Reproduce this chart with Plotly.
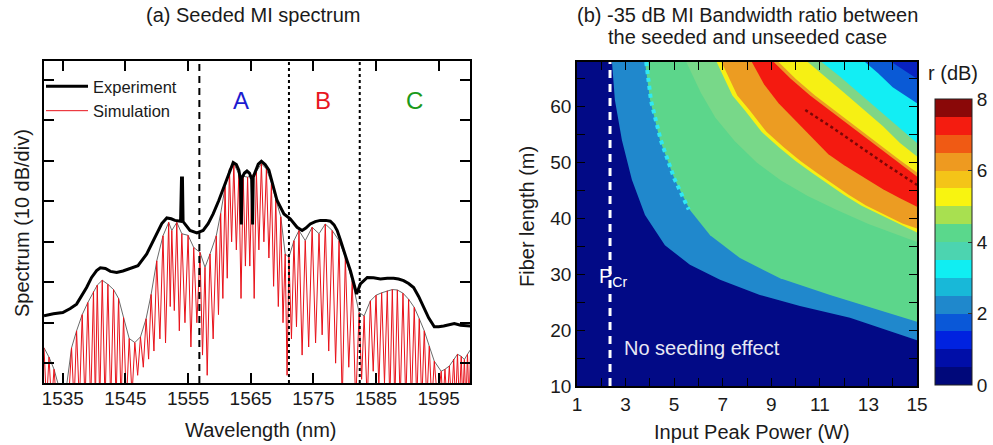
import plotly.graph_objects as go

W, H = 993, 445
FONT = "Liberation Sans, Arial, sans-serif"

# ---------------- (a) Seeded MI spectrum ----------------
exp_wl = [1532.0, 1533.5, 1535.0, 1536.2, 1537.2, 1538.0, 1538.8, 1539.6, 1540.4, 1541.0,
          1541.8, 1542.6, 1543.6, 1544.6, 1545.7, 1547.0, 1548.4, 1549.2, 1550.0, 1550.8,
          1551.6, 1552.3, 1552.9, 1553.8, 1553.95, 1554.1, 1554.2, 1555.3, 1556.4, 1557.4,
          1558.2, 1559.0, 1559.9, 1560.7, 1561.5, 1562.2, 1562.7, 1563.1, 1563.35, 1563.4,
          1563.5, 1563.6, 1564.0, 1564.4, 1564.8, 1565.15, 1565.2, 1565.3, 1565.4, 1565.8,
          1566.2, 1566.7, 1567.3, 1567.9, 1568.6, 1569.2, 1570.3, 1571.3, 1572.4, 1573.2,
          1573.8, 1574.5, 1575.3, 1576.1, 1577.0, 1577.7, 1578.3, 1578.8, 1579.3, 1579.8,
          1580.4, 1580.9, 1581.5, 1581.9, 1582.5, 1583.6, 1584.6, 1585.7, 1586.8, 1587.8,
          1588.6, 1589.4, 1590.2, 1591.0, 1591.8, 1592.6, 1593.4, 1594.3, 1595.0, 1595.8,
          1596.6, 1597.5, 1598.5, 1600.1]
exp_db = [-38.3, -37.8, -37.5, -36.5, -35.4, -33.5, -31.3, -28.8, -27.1, -26.4,
          -26.6, -27.3, -27.6, -27.2, -26.6, -25.9, -23.0, -20.5, -18.0, -15.5,
          -14.1, -14.3, -14.7, -14.9, -4.2, -4.2, -15.0, -17.2, -17.8, -17.2,
          -15.5, -13.1, -9.8, -6.5, -2.8, -0.4, -0.9, -2.3, -4.5, -15.7,
          -15.7, -4.2, -3.0, -2.5, -3.0, -4.5, -15.7, -15.7, -4.0, -2.4,
          -0.8, -0.1, -0.9, -2.3, -6.0, -9.8, -13.1, -14.3, -16.4, -17.2,
          -16.6, -15.6, -15.0, -14.7, -14.7, -14.9, -15.8, -17.2, -19.5, -22.2,
          -24.8, -27.1, -30.5, -32.9, -30.4, -28.8, -28.9, -29.2, -29.0, -29.0,
          -29.2, -29.6, -30.3, -31.3, -33.5, -36.3, -38.8, -41.0, -41.0, -40.8,
          -40.5, -40.2, -40.6, -40.8]

# comb peaks of the simulated spectrum (also the grey envelope)
sim_peak_wl = [1532.0, 1532.8, 1533.6, 1534.4, 1535.4, 1536.4, 1537.2, 1538.1, 1539.0, 1539.9,
               1540.5, 1541.3, 1542.2, 1543.1, 1543.9, 1544.7, 1545.6, 1546.5, 1547.4, 1548.3,
               1549.1, 1550.0, 1551.0, 1551.9, 1552.4, 1553.2, 1554.0, 1555.0, 1555.9, 1556.9,
               1557.7, 1558.5, 1559.5, 1560.2, 1560.9, 1561.6, 1562.3, 1563.1, 1563.8, 1564.5,
               1565.2, 1565.9, 1566.7, 1567.5, 1568.3, 1569.0, 1569.8, 1570.5, 1571.1, 1571.9,
               1572.7, 1573.7, 1574.8, 1575.9, 1576.9, 1578.0, 1579.1, 1580.1, 1581.2, 1582.3,
               1583.1, 1584.1, 1585.0, 1585.9, 1586.8, 1587.6, 1588.4, 1589.3, 1590.2, 1591.1,
               1591.9, 1592.7, 1593.5, 1594.3, 1595.4, 1596.0, 1596.7, 1597.4, 1598.0, 1598.6,
               1599.1, 1599.6, 1600.1]
sim_peak_db = [-46.2, -48.5, -51.5, -56.0, -58.0, -46.2, -42.0, -38.0, -35.0, -32.3,
               -30.7, -29.5, -30.5, -31.8, -34.0, -38.7, -43.9, -44.9, -43.5, -39.0,
               -33.0, -24.7, -18.5, -15.2, -17.2, -15.2, -18.0, -18.4, -21.4, -22.6,
               -26.3, -23.0, -18.5, -13.0, -6.5, -2.0, -0.7, -3.2, -3.8, -4.0,
               -3.6, -2.6, -0.7, -2.0, -5.5, -9.5, -13.8, -23.0, -23.8, -19.7,
               -17.2, -19.7, -16.4, -18.0, -15.6, -17.2, -19.7, -23.8, -29.6, -37.5,
               -38.3, -34.6, -33.2, -32.6, -32.1, -31.8, -31.9, -32.7, -34.2, -36.2,
               -39.0, -42.0, -45.8, -49.5, -52.0, -51.5, -50.7, -49.0, -47.8, -48.3,
               -49.1, -47.8, -46.6]
# troughs between consecutive comb peaks
sim_trough_wl = [1532.4, 1533.2, 1534.0, 1534.9, 1535.9, 1536.8, 1537.65, 1538.55, 1539.45, 1540.2,
                 1540.9, 1541.75, 1542.65, 1543.5, 1544.3, 1545.15, 1546.05, 1546.95, 1547.85, 1548.7,
                 1549.55, 1550.5, 1551.4, 1552.15, 1552.8, 1553.6, 1554.5, 1555.45, 1556.4, 1557.3,
                 1558.05, 1559.0, 1559.85, 1560.55, 1561.25, 1561.95, 1562.7, 1563.45, 1564.15, 1564.85,
                 1565.55, 1566.3, 1567.1, 1567.9, 1568.65, 1569.4, 1570.15, 1570.8, 1571.5, 1572.3,
                 1573.2, 1574.25, 1575.35, 1576.4, 1577.45, 1578.55, 1579.6, 1580.65, 1581.75, 1582.7,
                 1583.6, 1584.55, 1585.45, 1586.35, 1587.2, 1588.0, 1588.85, 1589.75, 1590.65, 1591.5,
                 1592.3, 1593.1, 1593.9, 1594.85, 1595.7, 1596.35, 1597.05, 1597.7, 1598.3, 1598.85,
                 1599.35, 1599.85]
sim_trough_db = [-60, -60, -60, -60, -60, -60, -60, -60, -60, -60,
                 -60, -60, -60, -60, -60, -60, -58, -53, -51, -49,
                 -47, -44, -45, -36, -37, -42, -40, -46, -40, -48,
                 -53, -44, -38, -34, -29, -20, -22, -34, -26, -26,
                 -34, -22, -20, -24, -31, -36, -40, -53, -44, -41,
                 -48, -46, -45, -43, -47, -50, -60, -51, -60, -54,
                 -60, -52, -56, -55, -60, -60, -60, -60, -60, -60,
                 -60, -60, -60, -60, -60, -60, -60, -60, -60, -60,
                 -60, -60]

divider_wl = [1556.8, 1571.1, 1582.4]
region_names = ["A", "B", "C"]
region_wl = [1563.5, 1576.6, 1591.2]
region_db = [15.0, 15.0, 15.0]

# ---------------- (b) bandwidth-ratio map ----------------
P_RANGE = [1, 15]
L_RANGE = [10, 68]
P_CR = 2.36

# each boundary runs from the top edge to the right edge; the region beyond it
# (towards the top-right corner) takes the listed level, painted in order
blue_P = [2.44, 2.56, 2.85, 3.26, 3.80, 4.62, 5.65, 6.89, 8.53, 10.18, 12.24, 15.0]
blue_L = [68.0, 61.2, 54.0, 46.9, 40.6, 35.2, 31.7, 29.0, 26.3, 24.3, 22.2, 18.2]
green_P = [3.80, 4.01, 4.42, 5.03, 5.65, 6.48, 7.71, 9.36, 11.42, 13.47, 15.0]
green_L = [68.0, 61.2, 54.0, 46.9, 41.5, 37.0, 32.9, 29.3, 26.3, 23.6, 21.5]
lgreen_P = [5.5, 6.1, 6.7, 7.5, 8.4, 9.4, 10.5, 11.7, 13.0, 14.2, 15.0]
lgreen_L = [68.0, 62.5, 58.0, 53.8, 50.0, 46.8, 44.0, 41.5, 39.0, 37.0, 35.8]
yellow_P = [6.75, 7.4, 7.9, 8.6, 9.3, 10.0, 10.7, 11.4, 12.0, 12.7, 13.4, 14.2, 15.0]
yellow_L = [68.0, 62.0, 59.4, 55.5, 52.8, 50.3, 48.1, 46.0, 44.2, 42.3, 40.8, 39.1, 37.5]
orange_P = [6.95, 7.6, 8.1, 8.8, 9.5, 10.2, 10.9, 11.6, 12.2, 12.9, 13.6, 14.4, 15.0]
orange_L = [68.0, 62.0, 59.4, 55.5, 52.8, 50.3, 48.1, 46.0, 44.2, 42.3, 40.8, 39.1, 38.2]
red_P = [8.2, 8.7, 9.3, 10.0, 10.7, 11.35, 12.0, 12.8, 13.6, 14.3, 15.0]
red_L = [68.0, 64.0, 60.6, 57.5, 54.3, 51.5, 49.5, 47.3, 45.2, 43.6, 42.1]
up_orange_P = [9.1, 9.8, 10.6, 11.5, 12.4, 13.3, 14.2, 15.0]
up_orange_L = [68.0, 65.0, 62.0, 59.0, 56.0, 53.0, 50.0, 47.5]
up_yellow_P = [9.3, 10.0, 10.8, 11.7, 12.6, 13.5, 14.3, 15.0]
up_yellow_L = [68.0, 65.0, 62.0, 59.0, 56.0, 53.0, 50.4, 48.2]
up_green_P = [10.5, 11.2, 12.0, 12.8, 13.6, 14.3, 15.0]
up_green_L = [68.0, 65.5, 62.5, 59.5, 56.5, 53.5, 51.1]
up_cyan_P = [11.07, 11.8, 12.6, 13.4, 14.2, 15.0]
up_cyan_L = [68.0, 65.5, 62.5, 59.5, 56.5, 53.5]
up_blue_P = [12.86, 13.4, 14.0, 14.5, 15.0]
up_blue_L = [68.0, 66.0, 63.5, 62.0, 60.6]
up_dblue_P = [13.95, 14.5, 15.0]
up_dblue_L = [68.0, 66.5, 65.0]
ridge_P = [10.4, 11.5, 12.6, 13.7, 15.0]
ridge_L = [59.4, 56.3, 53.0, 49.7, 46.0]
edge_P = [3.85, 4.05, 4.45, 5.0, 5.6]
edge_L = [68.0, 61.0, 54.0, 47.2, 41.6]

band_levels = [0.0, 2.2, 4.0, 4.4, 5.0, 6.0, 7.0, 6.0, 5.0, 4.3, 3.2, 1.8, 1.0]

cbar_colors = ["#00087a", "#000ea8", "#0022e0", "#0a58d8", "#1f88cc", "#18b8d8",
               "#10eef2", "#4cd4b0", "#5ad88c", "#a8e050", "#f8f410", "#f4c418",
               "#ee9a20", "#f05a14", "#f41c10", "#8a0808"]

map_fill = {0.0: "#020a86", 2.2: "#2088cc", 4.0: "#5cd68b", 4.4: "#78d889", 5.0: "#f6f014",
            6.0: "#ec9c22", 7.0: "#f41a10", 4.3: "#7fd686", 3.2: "#12eef4",
            1.8: "#0a5ad6", 1.0: "#0822c0"}

# ---------------- figure ----------------
fig = go.Figure()

# simulation (interleave comb peaks and troughs)
sim_wl, sim_db = [], []
for i in range(len(sim_peak_wl)):
    sim_wl.append(sim_peak_wl[i]); sim_db.append(sim_peak_db[i])
    if i < len(sim_trough_wl):
        sim_wl.append(sim_trough_wl[i]); sim_db.append(sim_trough_db[i])

fig.add_trace(go.Scatter(x=sim_peak_wl, y=sim_peak_db, mode="lines",
                         line=dict(color="#6a6a6a", width=1), showlegend=False,
                         xaxis="x", yaxis="y", hoverinfo="skip"))
fig.add_trace(go.Scatter(x=sim_wl, y=sim_db, mode="lines", name="Simulation",
                         line=dict(color="#e8121a", width=1), xaxis="x", yaxis="y"))
fig.add_trace(go.Scatter(x=exp_wl, y=exp_db, mode="lines", name="Experiment",
                         line=dict(color="black", width=3), xaxis="x", yaxis="y"))

dashes = ["7px,5px", "3px,3px", "3px,3px"]
for wl, dsh in zip(divider_wl, dashes):
    fig.add_trace(go.Scatter(x=[wl, wl], y=[-54.9, 24.7], mode="lines",
                             line=dict(color="black", width=2, dash=dsh),
                             showlegend=False, xaxis="x", yaxis="y", hoverinfo="skip"))

label_colors = ["#1c1cd0", "#e8161e", "#1a9a1a"]
for nm, wl, db, c in zip(region_names, region_wl, region_db, label_colors):
    fig.add_annotation(x=wl, y=db, xref="x", yref="y", text=nm, showarrow=False,
                       font=dict(size=24, color=c, family=FONT))

# map: background level then each band
fig.add_trace(go.Scatter(x=[P_RANGE[0], P_RANGE[1], P_RANGE[1], P_RANGE[0]],
                         y=[L_RANGE[0], L_RANGE[0], L_RANGE[1], L_RANGE[1]],
                         fill="toself", fillcolor=map_fill[band_levels[0]], mode="lines",
                         line=dict(width=0), showlegend=False, xaxis="x2", yaxis="y2",
                         hoverinfo="skip"))
bounds = [(blue_P, blue_L), (green_P, green_L), (lgreen_P, lgreen_L), (yellow_P, yellow_L),
          (orange_P, orange_L), (red_P, red_L), (up_orange_P, up_orange_L),
          (up_yellow_P, up_yellow_L), (up_green_P, up_green_L), (up_cyan_P, up_cyan_L),
          (up_blue_P, up_blue_L), (up_dblue_P, up_dblue_L)]
for (bp, bl), lev in zip(bounds, band_levels[1:]):
    fig.add_trace(go.Scatter(x=bp + [P_RANGE[1]], y=bl + [L_RANGE[1]], fill="toself",
                             fillcolor=map_fill[lev], mode="lines", line=dict(width=0),
                             showlegend=False, xaxis="x2", yaxis="y2", hoverinfo="skip"))

fig.add_trace(go.Scatter(x=ridge_P, y=ridge_L, mode="lines",
                         line=dict(color="#7a0606", width=2.5, dash="dot"),
                         showlegend=False, xaxis="x2", yaxis="y2", hoverinfo="skip"))
fig.add_trace(go.Scatter(x=edge_P, y=edge_L, mode="lines",
                         line=dict(color="#30e8f4", width=4, dash="dot"),
                         showlegend=False, xaxis="x2", yaxis="y2", hoverinfo="skip"))
fig.add_trace(go.Scatter(x=[P_CR, P_CR], y=L_RANGE, mode="lines",
                         line=dict(color="white", width=3, dash="8px,6px"),
                         showlegend=False, xaxis="x2", yaxis="y2", hoverinfo="skip"))

# colour bar
cscale = []
n = len(cbar_colors)
for i, c in enumerate(cbar_colors):
    cscale.append([i / n, c]); cscale.append([(i + 1) / n, c])
fig.add_trace(go.Scatter(x=[P_RANGE[0], P_RANGE[0]], y=[L_RANGE[0], L_RANGE[0]], mode="markers",
                         marker=dict(size=1, color=[0, 8], cmin=0, cmax=8, colorscale=cscale,
                                     showscale=True,
                                     colorbar=dict(x=935 / W, xanchor="left", y=1 - 385 / H,
                                                   yanchor="bottom", len=286 / H, lenmode="fraction",
                                                   thickness=37, thicknessmode="pixels",
                                                   outlinecolor="#222", outlinewidth=1,
                                                   xpad=0, ypad=0, tickvals=[0, 2, 4, 6, 8],
                                                   ticks="inside", ticklen=4, tickcolor="#333",
                                                   tickfont=dict(size=19, family=FONT, color="#1a1a1a"))),
                         opacity=0, showlegend=False, xaxis="x2", yaxis="y2", hoverinfo="skip"))

fig.add_annotation(x=P_CR + 0.12, y=29.5, xref="x2", yref="y2", text="P<sub>Cr</sub>",
                   showarrow=False, font=dict(size=20, color="white", family=FONT))
fig.add_annotation(x=6.15, y=16.8, xref="x2", yref="y2", text="No seeding effect",
                   showarrow=False, font=dict(size=20, color="#e8e8f4", family=FONT))

def pa(x, y, text, size=20, angle=0):
    fig.add_annotation(x=x / W, y=1 - y / H, xref="paper", yref="paper", text=text,
                       showarrow=False, textangle=angle, xanchor="center", yanchor="middle",
                       font=dict(size=size, color="#1a1a1a", family=FONT))

pa(253, 15, "(a) Seeded MI spectrum")
pa(747, 15, "(b) -35 dB MI Bandwidth ratio between")
pa(747, 37, "the seeded and unseeded case")
pa(953, 73, "r (dB)")
pa(22, 223, "Spectrum (10 dB/div)", angle=-90)
pa(261, 430, "Wavelength (nm)")
pa(527, 217, "Fiber length (m)", angle=-90)
pa(752, 432, "Input Peak Power (W)")

axis_common = dict(showgrid=False, zeroline=False, showline=True, linecolor="black",
                   linewidth=1.5, mirror="ticks", ticks="inside", tickcolor="black",
                   tickfont=dict(size=19, family=FONT, color="#1a1a1a"))
fig.update_layout(
    width=W, height=H, margin=dict(l=0, r=0, t=0, b=0, autoexpand=False),
    paper_bgcolor="white", plot_bgcolor="white",
    font=dict(family=FONT, color="#1a1a1a"),
    xaxis=dict(domain=[44 / W, 470 / W], range=[1532, 1600], tick0=1535, dtick=10,
               ticklen=10, tickwidth=1.5, anchor="y", ticklabelstandoff=-3, **axis_common),
    yaxis=dict(domain=[1 - 383 / H, 1 - 61 / H], range=[-54.9, 24.7], tick0=0, dtick=10,
               ticklen=10, tickwidth=1.5, showticklabels=False, anchor="x", **axis_common),
    xaxis2=dict(domain=[577 / W, 917 / W], range=P_RANGE, tick0=1, dtick=2, ticklen=8,
                minor=dict(dtick=1, ticks="inside", ticklen=8, tickcolor="black"),
                anchor="y2", **axis_common),
    yaxis2=dict(domain=[1 - 386 / H, 1 - 62 / H], range=L_RANGE, tick0=10, dtick=10, ticklen=8,
                minor=dict(dtick=5, ticks="inside", ticklen=8, tickcolor="black"),
                anchor="x2", **axis_common),
    legend=dict(x=41 / W, y=1 - 69 / H, xanchor="left", yanchor="top", traceorder="reversed",
                bgcolor="rgba(0,0,0,0)", font=dict(size=16.5, family=FONT, color="#1a1a1a"),
                tracegroupgap=0, itemwidth=42),
    showlegend=True,
)

fig.write_html("out.html", config={"displayModeBar": False},
               post_script="document.body.style.margin='0px';")
